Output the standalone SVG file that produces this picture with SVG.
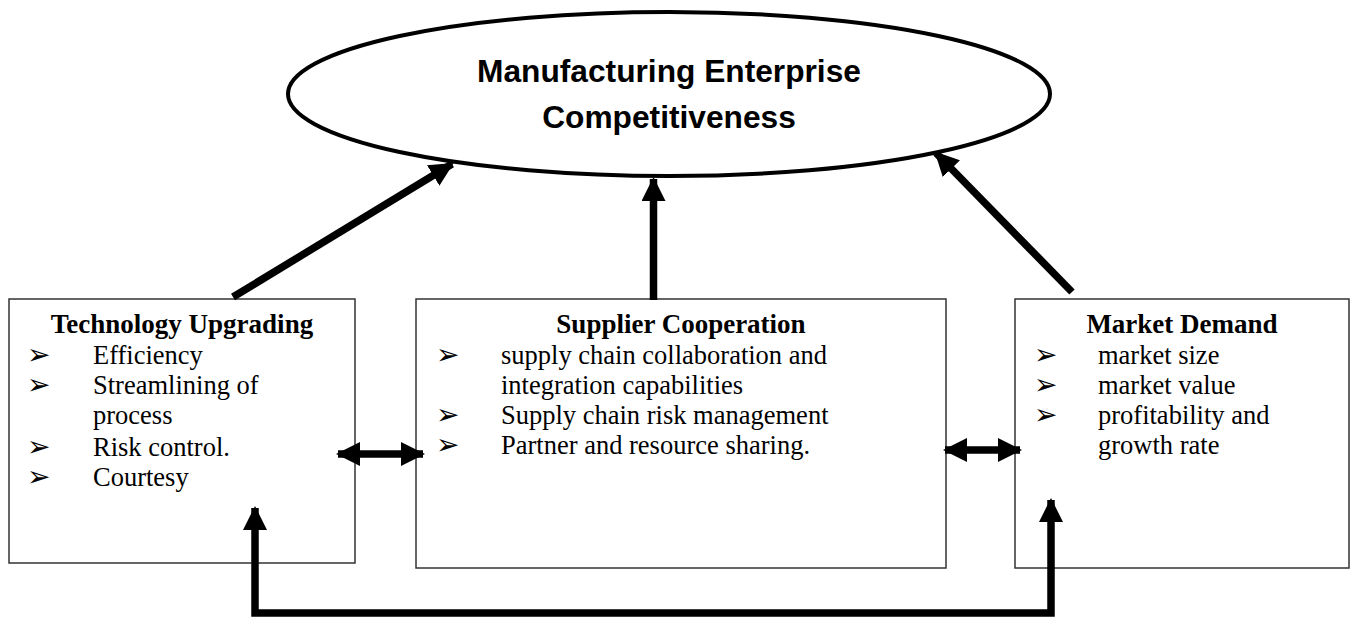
<svg xmlns="http://www.w3.org/2000/svg" width="1355" height="617" viewBox="0 0 1355 617">
  <style>
    .box { fill: #ffffff; stroke: #333333; stroke-width: 1.5; }
    .title { font-family: "Liberation Serif", "Times New Roman", serif; font-weight: bold; font-size: 27px; fill: #000; text-anchor: middle; }
    .item { font-family: "Liberation Serif", "Times New Roman", serif; font-size: 26.5px; fill: #000; }
    .bullet { font-family: "DejaVu Sans", sans-serif; font-size: 28px; fill: #000; }
    .goal { font-family: "Liberation Sans", Arial, sans-serif; font-weight: bold; font-size: 31.7px; fill: #000; text-anchor: middle; }
    .shaft { fill: none; stroke: #000; stroke-width: 7.5; }
  </style>
  <defs>
    <marker id="head" viewBox="0 0 24 24" refX="22" refY="12" markerWidth="24" markerHeight="24" markerUnits="userSpaceOnUse" orient="auto-start-reverse">
      <path d="M0,0 L24,12 L0,24 Z" fill="#000"/>
    </marker>
  </defs>
  <rect width="1355" height="617" fill="#ffffff"/>

  <!-- central goal -->
  <g id="goal">
    <ellipse cx="669" cy="94" rx="381" ry="82" fill="#ffffff" stroke="#000" stroke-width="4"/>
    <text class="goal" x="669" y="82">Manufacturing Enterprise</text>
    <text class="goal" x="669" y="128">Competitiveness</text>
  </g>

  <!-- technology upgrading -->
  <g id="technology">
    <rect class="box" x="9" y="299" width="346" height="264"/>
    <text class="title" x="182" y="333">Technology Upgrading</text>
    <text class="bullet" x="27" y="364">➢</text>
    <text class="item" x="93" y="364">Efficiency</text>
    <text class="bullet" x="27" y="394">➢</text>
    <text class="item" x="93" y="394">Streamlining of</text>
    <text class="item" x="93" y="424">process</text>
    <text class="bullet" x="27" y="456">➢</text>
    <text class="item" x="93" y="456">Risk control.</text>
    <text class="bullet" x="27" y="486">➢</text>
    <text class="item" x="93" y="486">Courtesy</text>
  </g>

  <!-- supplier cooperation -->
  <g id="supplier">
    <rect class="box" x="416" y="299" width="530" height="269"/>
    <text class="title" x="681" y="333">Supplier Cooperation</text>
    <text class="bullet" x="436" y="364">➢</text>
    <text class="item" x="501" y="364">supply chain collaboration and</text>
    <text class="item" x="501" y="394">integration capabilities</text>
    <text class="bullet" x="436" y="424">➢</text>
    <text class="item" x="501" y="424">Supply chain risk management</text>
    <text class="bullet" x="436" y="454">➢</text>
    <text class="item" x="501" y="454">Partner and resource sharing.</text>
  </g>

  <!-- market demand -->
  <g id="market">
    <rect class="box" x="1015" y="299" width="334" height="269"/>
    <text class="title" x="1182" y="333">Market Demand</text>
    <text class="bullet" x="1034" y="364">➢</text>
    <text class="item" x="1098" y="364">market size</text>
    <text class="bullet" x="1034" y="394">➢</text>
    <text class="item" x="1098" y="394">market value</text>
    <text class="bullet" x="1034" y="424">➢</text>
    <text class="item" x="1098" y="424">profitability and</text>
    <text class="item" x="1098" y="454">growth rate</text>
  </g>

  <!-- connectors -->
  <g id="connectors">
    <path class="shaft" d="M233,297 L452,164" marker-end="url(#head)"/>
    <path class="shaft" d="M653.5,300 L653.5,179" marker-end="url(#head)"/>
    <path class="shaft" d="M1072,292 L936,153" marker-end="url(#head)"/>
    <path class="shaft" d="M338,454 L423,454" marker-start="url(#head)" marker-end="url(#head)"/>
    <path class="shaft" d="M945,450 L1020,450" marker-start="url(#head)" marker-end="url(#head)"/>
    <path class="shaft" d="M255,508 L255,613 L1051,613 L1051,500" marker-start="url(#head)" marker-end="url(#head)"/>
  </g>
</svg>
